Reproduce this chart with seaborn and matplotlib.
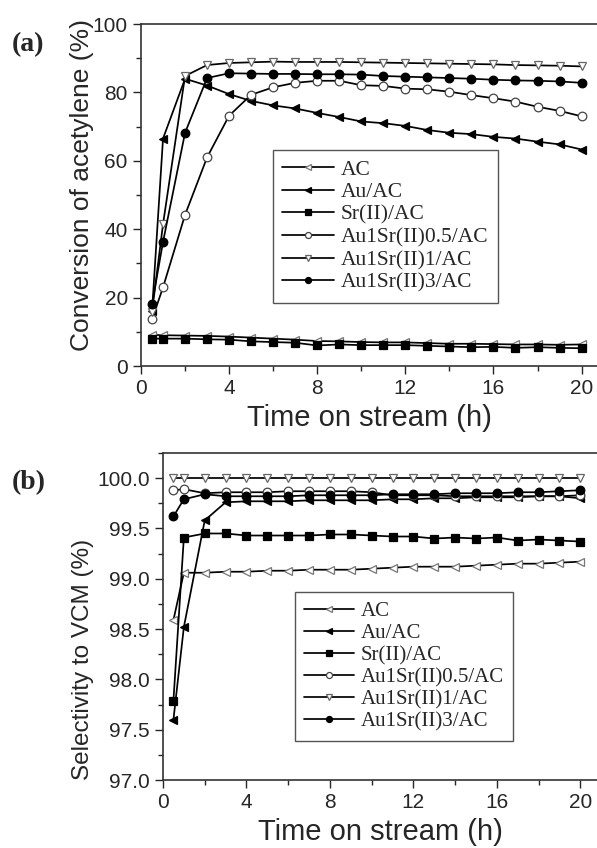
import matplotlib
matplotlib.use("Agg")
import matplotlib.pyplot as plt
import seaborn as sns
import numpy as np
from matplotlib.ticker import MultipleLocator

sns.set_theme(style="ticks")
plt.rcParams['font.family'] = ['Liberation Sans', 'DejaVu Sans']

time_h = [0.5, 1, 2, 3, 4, 5, 6, 7, 8, 9, 10, 11, 12, 13, 14, 15, 16, 17, 18, 19, 20]

series_names = ["AC", "Au/AC", "Sr(II)/AC", "Au1Sr(II)0.5/AC", "Au1Sr(II)1/AC", "Au1Sr(II)3/AC"]

# (a) Conversion of acetylene (%)
conv_AC = [9.1, 9.0, 8.9, 8.8, 8.6, 8.3, 8.0, 7.7, 7.3, 7.2, 7.0, 6.9, 6.9, 6.7, 6.5, 6.5, 6.4, 6.3, 6.3, 6.2, 6.3]
conv_Au = [16.0, 66.5, 84.0, 82.0, 79.5, 77.5, 76.2, 75.3, 74.0, 72.8, 71.5, 71.0, 70.2, 69.0, 68.2, 67.8, 67.0, 66.5, 65.6, 64.8, 63.3]
conv_Sr = [8.0, 8.0, 8.0, 7.8, 7.7, 7.2, 7.0, 6.8, 6.0, 6.3, 6.1, 6.1, 6.1, 5.9, 5.7, 5.5, 5.6, 5.3, 5.5, 5.3, 5.2]
conv_AuSr05 = [13.6, 23.0, 44.2, 61.0, 73.2, 79.3, 81.5, 82.8, 83.4, 83.4, 82.1, 81.9, 81.1, 80.9, 80.2, 79.2, 78.3, 77.3, 75.8, 74.6, 73.0]
conv_AuSr1 = [15.8, 41.5, 84.8, 88.0, 88.6, 88.8, 89.0, 88.9, 88.9, 88.9, 88.8, 88.7, 88.6, 88.5, 88.4, 88.3, 88.2, 88.0, 87.9, 87.8, 87.6]
conv_AuSr3 = [18.0, 36.3, 68.2, 84.2, 85.6, 85.5, 85.4, 85.4, 85.3, 85.3, 85.2, 84.8, 84.6, 84.4, 84.2, 84.0, 83.7, 83.5, 83.4, 83.2, 82.8]

# (b) Selectivity to VCM (%)
sel_AC = [98.59, 99.06, 99.06, 99.07, 99.07, 99.08, 99.08, 99.09, 99.09, 99.09, 99.10, 99.11, 99.12, 99.12, 99.12, 99.13, 99.14, 99.15, 99.15, 99.16, 99.17]
sel_Au = [97.60, 98.52, 99.58, 99.76, 99.77, 99.77, 99.77, 99.78, 99.78, 99.78, 99.78, 99.79, 99.79, 99.80, 99.80, 99.81, 99.81, 99.81, 99.82, 99.82, 99.80]
sel_Sr = [97.79, 99.41, 99.45, 99.45, 99.43, 99.43, 99.43, 99.43, 99.44, 99.44, 99.43, 99.42, 99.42, 99.40, 99.41, 99.40, 99.41, 99.38, 99.39, 99.38, 99.37]
sel_AuSr05 = [99.88, 99.89, 99.85, 99.86, 99.86, 99.86, 99.87, 99.87, 99.87, 99.87, 99.86, 99.83, 99.83, 99.83, 99.82, 99.82, 99.82, 99.82, 99.82, 99.82, 99.83]
sel_AuSr1 = [100.0] * 21
sel_AuSr3 = [99.62, 99.79, 99.84, 99.82, 99.82, 99.82, 99.82, 99.83, 99.83, 99.83, 99.83, 99.84, 99.84, 99.84, 99.85, 99.85, 99.85, 99.86, 99.86, 99.87, 99.88]

conv_data = [conv_AC, conv_Au, conv_Sr, conv_AuSr05, conv_AuSr1, conv_AuSr3]
sel_data = [sel_AC, sel_Au, sel_Sr, sel_AuSr05, sel_AuSr1, sel_AuSr3]

styles = [
    dict(marker='<', markerfacecolor='white', markeredgecolor='#777777'),
    dict(marker='<', markerfacecolor='black', markeredgecolor='black'),
    dict(marker='s', markerfacecolor='black', markeredgecolor='black'),
    dict(marker='o', markerfacecolor='white', markeredgecolor='#444444'),
    dict(marker='v', markerfacecolor='white', markeredgecolor='#666666'),
    dict(marker='o', markerfacecolor='black', markeredgecolor='black'),
]

fig = plt.figure(figsize=(5.97, 8.48), dpi=100)
ax1 = fig.add_axes([141/597, 1-366/848, 1-141/597, (366-24)/848])
ax2 = fig.add_axes([163/597, 1-780/848, 1-163/597, (780-453)/848])

for ax, data in [(ax1, conv_data), (ax2, sel_data)]:
    for name, vals, st in zip(series_names, data, styles):
        sns.lineplot(x=time_h, y=vals, ax=ax, color='black', linewidth=1.25,
                     markersize=6.2, markeredgewidth=0.9, label=name, **st)

serif = ['Liberation Serif', 'DejaVu Serif']

for ax in (ax1, ax2):
    ax.spines['right'].set_visible(False)
    for s in ('left', 'bottom', 'top'):
        ax.spines[s].set_linewidth(1.2)
        ax.spines[s].set_color('#333333')
    ax.xaxis.set_major_locator(MultipleLocator(4))
    ax.xaxis.set_minor_locator(MultipleLocator(2))
    ax.tick_params(which='major', length=6, width=1.0, labelsize=15, direction='out')
    ax.tick_params(which='minor', length=3.5, width=1.0, direction='out')
    ax.tick_params(axis='x', top=False)
    ax.set_xlabel("Time on stream (h)", fontsize=21, labelpad=4)

ax1.set_xlim(0, 20.7)
ax1.set_ylim(0, 100)
ax1.yaxis.set_major_locator(MultipleLocator(20))
ax1.yaxis.set_minor_locator(MultipleLocator(10))
ax1.set_ylabel("Conversion of acetylene (%)", fontsize=19)
ax1.yaxis.set_label_coords((94-141)/456, 0.53)

ax2.set_xlim(0, 20.8)
ax2.set_ylim(97.0, 100.25)
ax2.yaxis.set_major_locator(MultipleLocator(0.5))
ax2.yaxis.set_minor_locator(MultipleLocator(0.25))
ax2.yaxis.set_major_formatter(matplotlib.ticker.FormatStrFormatter('%.1f'))
ax2.set_ylabel("Selectivity to VCM (%)", fontsize=17.5)
ax2.yaxis.set_label_coords((94-163)/434, 0.37)

leg_kw = dict(loc='upper left', borderaxespad=0, frameon=True, fancybox=False,
              edgecolor='#555555', framealpha=1, handlelength=2.4, handletextpad=0.3,
              labelspacing=0.12, borderpad=0.45, markerscale=0.7)
l1 = ax1.legend(bbox_to_anchor=(0.289, 0.632), prop={'family': serif, 'size': 15.5}, **leg_kw)
l2 = ax2.legend(bbox_to_anchor=(0.304, 0.575), prop={'family': serif, 'size': 15}, **leg_kw)
for l in (l1, l2):
    l.get_frame().set_linewidth(1.0)

fig.text(12/597, 1-45/848, "(a)", fontsize=20, fontweight='bold', family=serif, va='center')
fig.text(12/597, 1-483/848, "(b)", fontsize=20, fontweight='bold', family=serif, va='center')

fig.savefig("out.png", dpi=100)
